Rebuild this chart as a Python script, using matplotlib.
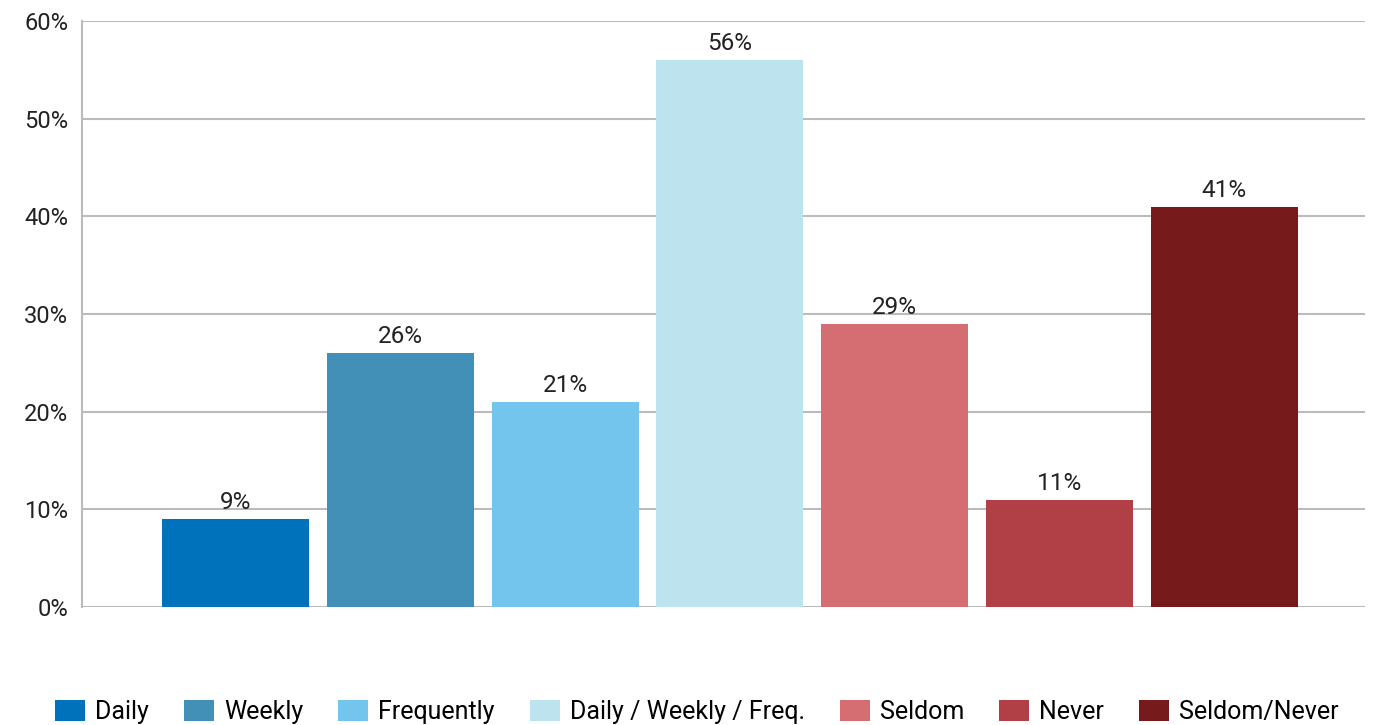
import matplotlib
matplotlib.use("Agg")
import matplotlib.pyplot as plt
from matplotlib.patches import Patch
from matplotlib.ticker import FuncFormatter

plt.rcParams['font.family'] = ['Roboto', 'DejaVu Sans']

categories = ["Daily", "Weekly", "Frequently", "Daily / Weekly / Freq.",
              "Seldom", "Never", "Seldom/Never"]
values = [9, 26, 21, 56, 29, 11, 41]
colors = ["#0072BB", "#428FB8", "#74C5EE", "#BCE3EE",
          "#D46E72", "#B04045", "#761A1B"]
yticks = [0, 10, 20, 30, 40, 50, 60]

fig = plt.figure(figsize=(13.85, 7.25), dpi=100)
ax = fig.add_axes([0.0592, 0.1628, 0.9264, 0.8082])

x = list(range(len(categories)))
bars = ax.bar(x, values, width=0.892, color=colors, zorder=3)

for xi, v in zip(x, values):
    ax.text(xi, v + 0.5, f"{v}%", ha="center", va="bottom",
            fontsize=17.5, color="#222222", zorder=4)

ax.set_xlim(-0.931, 6.854)
ax.set_ylim(0, 60)
ax.set_yticks(yticks)
ax.yaxis.set_major_formatter(FuncFormatter(lambda v, p: f"{v:.0f}%"))
ax.tick_params(axis="y", length=0, pad=10, labelsize=17, labelcolor="#222222")
ax.set_xticks([])
ax.grid(axis="y", color="#BBBBBB", linewidth=1.5, zorder=0)
for s in ["top", "right", "bottom"]:
    ax.spines[s].set_visible(False)
ax.spines["left"].set_color("#BBBBBB")
ax.spines["left"].set_linewidth(1.5)

handles = [Patch(facecolor=c, edgecolor="none") for c in colors]
fig.legend(handles, categories, loc="center", ncol=7,
           bbox_to_anchor=(0.503, 0.018), frameon=False, fontsize=18,
           handlelength=1.2, handleheight=0.9, handletextpad=0.4,
           columnspacing=1.4, borderpad=0.0)

fig.savefig("out.png", dpi=100, facecolor="white")
